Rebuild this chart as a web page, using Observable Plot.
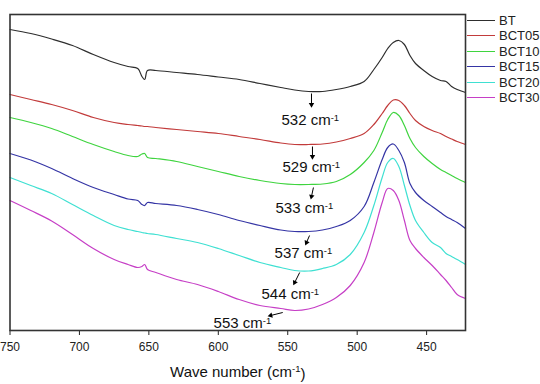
<!DOCTYPE html>
<html><head><meta charset="utf-8">
<script src="https://cdn.jsdelivr.net/npm/d3@7"></script>
<script src="https://cdn.jsdelivr.net/npm/@observablehq/plot@0.6"></script>
<style>
body{margin:0;background:#fff;font-family:"Liberation Sans",Arial,sans-serif;}
#wrap{position:relative;width:540px;height:384px;overflow:hidden;}
#legend{position:absolute;left:467px;top:12.5px;font-size:13px;color:#222;line-height:15.5px;}
.item{display:flex;align-items:center;height:15.5px;white-space:nowrap;}
.sw{display:inline-block;width:28px;height:0;border-top:1.6px solid;margin-right:4px;}
</style></head><body>
<div id="wrap"><div id="legend"></div></div>
<script>
// Raman shift grid (cm-1) and intensities (a.u., stacked offsets)
const wavenumbers = [750,735,720,705,690,675,665,658,655,653,651,645,630,615,600,585,570,555,545,535,525,515,505,495,488,482,478,474,470,466,462,458,452,446,440,436,432,428,422];
const BT    = [301,297,291.5,285,276,268,264,262,254,251,260,260,258,256,253.5,251,247,243,240.5,239,239,241,244,249,261,273,282,288,290,286,275,267,260,254,250,249,244,241,238];
const BCT05 = [236,231,226,220,213,208,206,205,204.5,204,204,203,201,199,197,194,191,187.5,186,186,186.5,188.5,192,197,206,217,225,230.5,230,225,217,210,204,200,197,194,191.5,189,186];
const BCT10 = [213,208,202,194,186,179,175,174,176.5,177,173,172,169,164,159,154,150,147,146,146,146.5,149,156,168,180,198,211,218,215,205,192,183,174,167,161,158,155,152,148];
const BCT15 = [177,170.5,162,152,143,136,131.5,130,126,125,128,127,125,121,116,110,105,100.5,99,99,100.5,104,110,124,148,171,183,186.5,180,168,147,138,130,124,118,114,111,108,102];
const BCT20 = [153,145,137,126,115,105,101,99,98,97.5,97,96,92,88,82,75,68,63,60,59.5,62,66,76,98,125,153,168,172,164,145,125,110,98,88,83,77,74,71,66];
const BCT30 = [130,120,109.5,96,82,71,66,63,64,66,61,58,51,46,39,31,25,22,20,21.5,26,33,45,68,98,128,142,140,130,110,90,82,73,65,56,50,43,36,32];

const seriesNames  = ["BT","BCT05","BCT10","BCT15","BCT20","BCT30"];
const seriesValues = [BT, BCT05, BCT10, BCT15, BCT20, BCT30];
const seriesColors = ["#2e2e2e","#c23b3b","#3fd43f","#3535a5","#3fe0d2","#c63fc6"];

const xTicks = [750,700,650,600,550,500,450];
const annotLabels = ["532 cm-1","529 cm-1","533 cm-1","537 cm-1","544 cm-1","553 cm-1"];

// ---- layout ----
const W = 540, H = 384, mL = 9.5, mR = 75, mT = 14, mB = 54;
const xDomain = [750, 422], yDomain = [0, 316];
const kx = (W - mL - mR) / (xDomain[0] - xDomain[1]);
const ky = (H - mT - mB) / (yDomain[1] - yDomain[0]);

const rows = seriesNames.flatMap((s, i) => wavenumbers.map((w, j) => ({series: s, wn: w, v: seriesValues[i][j]})));
const colorOf = Object.fromEntries(seriesNames.map((s, i) => [s, seriesColors[i]]));

// annotation arrows/labels placement (data units)
const annotPlace = [
  {x1: 532.9, y1: 237, x2: 532.9, y2: 226, tx: 554.5, ty: 210},
  {x1: 532.2, y1: 184, x2: 532.2, y2: 174, tx: 553.8, ty: 163},
  {x1: 531.5, y1: 143, x2: 532.9, y2: 134, tx: 558.8, ty: 122},
  {x1: 534.3, y1: 95,  x2: 536.5, y2: 88,  tx: 559.5, ty: 77},
  {x1: 541.4, y1: 58,  x2: 545.0, y2: 48,  tx: 568.9, ty: 36},
  {x1: 553.6, y1: 18,  x2: 562.3, y2: 15,  tx: 603.4, ty: 7}
];
const annots = annotLabels.map((label, i) => {
  const p = annotPlace[i];
  const dxp = -(p.x2 - p.x1) * kx, dyp = -(p.y2 - p.y1) * ky;
  const angle = Math.atan2(dxp, -dyp) * 180 / Math.PI;
  return {...p, label, angle};
});

const chart = Plot.plot({
  width: W, height: H,
  marginLeft: mL, marginRight: mR, marginTop: mT, marginBottom: mB,
  style: {fontFamily: "'Liberation Sans', Arial, sans-serif", fontSize: "12px", color: "#222", background: "#fff"},
  x: {domain: xDomain, ticks: xTicks, tickSize: 5, tickPadding: 7, tickFormat: d => String(d), label: null},
  y: {domain: yDomain, axis: null},
  marks: [
    Plot.line(rows, {x: "wn", y: "v", z: "series", stroke: d => colorOf[d.series], strokeWidth: 1.2, curve: "catmull-rom"}),
    Plot.frame({stroke: "#333", strokeWidth: 1.6}),
    Plot.link(annots, {x1: "x1", y1: "y1", x2: "x2", y2: "y2", stroke: "#000", strokeWidth: 1}),
    Plot.dot(annots, {x: "x2", y: "y2", symbol: "triangle2", r: 2.6, fill: "#000", stroke: "none", rotate: "angle"}),
    Plot.text(annots, {x: "tx", y: "ty", text: "label", textAnchor: "start", fontSize: 15, fill: "#111"}),
    Plot.text(["Wave number (cm-1)"], {frameAnchor: "bottom", dy: 46, fontSize: 15, fill: "#111"})
  ]
});
document.getElementById("wrap").prepend(chart);

// superscript "-1"
d3.select(chart).selectAll("text").each(function() {
  const t = this.textContent;
  const i = t.indexOf("cm-1");
  if (i < 0 || this.querySelector("tspan")) return;
  const before = t.slice(0, i + 2), after = t.slice(i + 4);
  const sel = d3.select(this);
  sel.text(null);
  sel.append("tspan").text(before);
  sel.append("tspan").attr("dy", "-0.45em").attr("font-size", "9.5px").text("-1");
  if (after) sel.append("tspan").attr("dy", "0.45em").text(after);
});

// legend
const lg = document.getElementById("legend");
seriesNames.forEach((s, i) => {
  const it = document.createElement("div"); it.className = "item";
  const sw = document.createElement("span"); sw.className = "sw"; sw.style.borderTopColor = seriesColors[i];
  const tx = document.createElement("span"); tx.textContent = s;
  it.append(sw, tx); lg.append(it);
});
</script></body></html>
